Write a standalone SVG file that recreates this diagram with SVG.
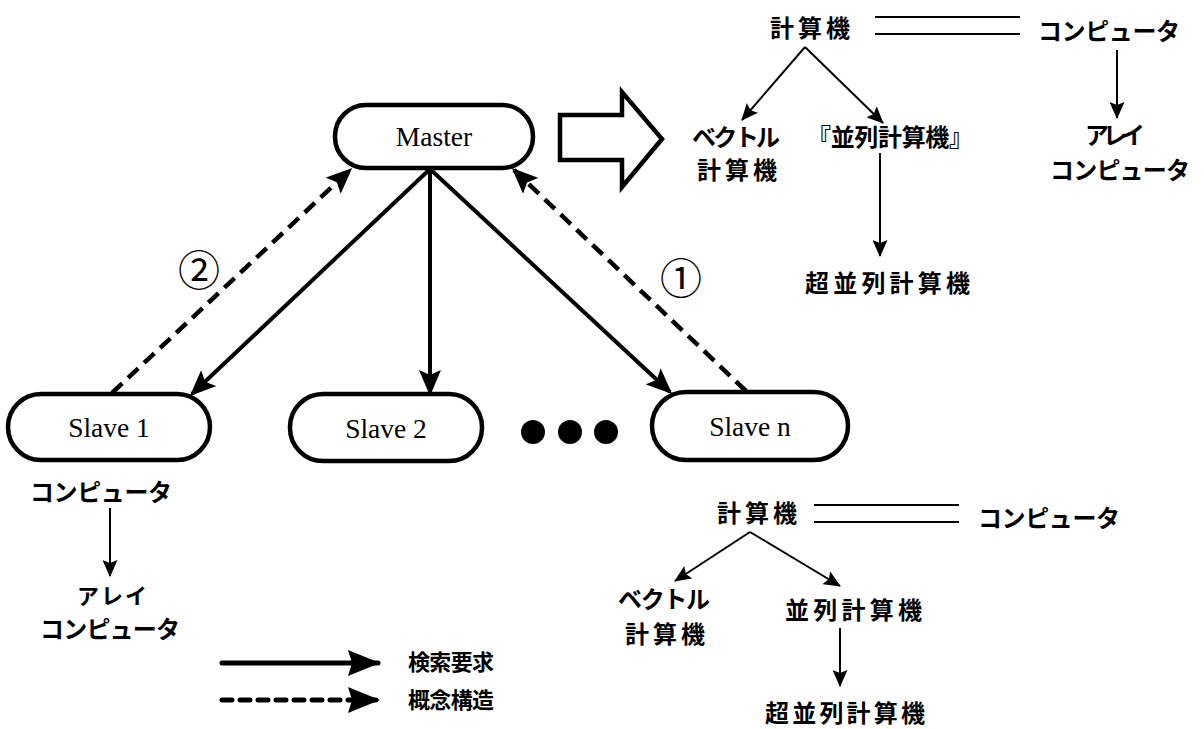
<svg xmlns="http://www.w3.org/2000/svg" width="1204" height="729" viewBox="0 0 1204 729">
<style>
.node rect{fill:#fff;stroke:#000;stroke-width:4.5}
.lbl{font-family:"Liberation Serif",serif;font-size:27.5px;fill:#000;text-anchor:middle}
.jp{font-family:"Noto Sans CJK JP",sans-serif;font-size:24px;font-weight:bold;fill:#000}
.jps{font-family:"Noto Sans CJK JP",sans-serif;font-size:22px;font-weight:bold;fill:#000}
.num{font-family:"Noto Sans CJK JP",sans-serif;font-size:42px;fill:#000;text-anchor:middle}
.main{fill:none;stroke:#000;stroke-width:4}
.dash{fill:none;stroke:#000;stroke-width:4.5;stroke-dasharray:14 8}
.thin{fill:none;stroke:#000;stroke-width:2}
</style>
<defs>
<marker id="ah" viewBox="0 0 26 22" refX="23" refY="11" markerWidth="26" markerHeight="22" markerUnits="userSpaceOnUse" orient="auto"><path d="M0,0 L26,11 L0,22 L5,11 z" fill="#000"/></marker>
<marker id="as" viewBox="0 0 17 15" refX="16" refY="7.5" markerWidth="17" markerHeight="15" markerUnits="userSpaceOnUse" orient="auto"><path d="M0,0 L17,7.5 L0,15 L3,7.5 z" fill="#000"/></marker>
<marker id="al" viewBox="0 0 32 26" refX="30" refY="13" markerWidth="32" markerHeight="26" markerUnits="userSpaceOnUse" orient="auto"><path d="M0,0 L32,13 L0,26 L4,13 z" fill="#000"/></marker>
</defs>

<g id="connectors">
<line class="main" x1="430" y1="169" x2="192" y2="394" marker-end="url(#ah)"/>
<line class="main" x1="430" y1="169" x2="430" y2="393" marker-end="url(#ah)"/>
<line class="main" x1="430" y1="169" x2="670" y2="392" marker-end="url(#ah)"/>
<line class="dash" x1="112" y1="393" x2="350" y2="170" marker-end="url(#ah)"/>
<line class="dash" x1="746" y1="391" x2="514" y2="170" marker-end="url(#ah)"/>
</g>

<g id="master" class="node"><rect x="335" y="105" width="198" height="63" rx="31"/><text class="lbl" x="434" y="146">Master</text></g>
<g id="slave1" class="node"><rect x="8" y="394" width="202" height="66" rx="33"/><text class="lbl" x="109" y="437">Slave 1</text></g>
<g id="slave2" class="node"><rect x="290" y="394" width="192" height="67" rx="33"/><text class="lbl" x="386" y="438">Slave 2</text></g>
<g id="slaven" class="node"><rect x="652" y="392" width="196" height="68" rx="34"/><text class="lbl" x="750" y="436">Slave n</text></g>

<g id="dots"><circle cx="533" cy="432" r="12"/><circle cx="570" cy="432" r="12"/><circle cx="606" cy="432" r="12"/></g>

<g id="bigarrow"><polygon points="560,115 622,115 622,92 662,139 622,187 622,160 560,160" fill="#fff" stroke="#000" stroke-width="4.5" stroke-linejoin="miter"/></g>

<g id="labels">
<text class="num" x="199" y="286">②</text>
<text class="num" x="681" y="294">①</text>
</g>

<g id="tree-top">
<text class="jp" x="770" y="37" textLength="80">計算機</text>
<line class="thin" x1="875" y1="17" x2="1020" y2="17"/>
<line class="thin" x1="875" y1="34" x2="1020" y2="34"/>
<text class="jp" x="1038" y="40" textLength="142">コンピュータ</text>
<line class="thin" x1="805" y1="47" x2="742" y2="120" marker-end="url(#as)"/>
<line class="thin" x1="805" y1="47" x2="883" y2="123" marker-end="url(#as)"/>
<text class="jp" x="692" y="146" textLength="88">ベクトル</text>
<text class="jp" x="697" y="179" textLength="80">計算機</text>
<text class="jp" x="807" y="146" textLength="166">『並列計算機』</text>
<line class="thin" x1="880" y1="153" x2="880" y2="256" marker-end="url(#as)"/>
<text class="jp" x="805" y="292" textLength="165">超並列計算機</text>
<line class="thin" x1="1117" y1="50" x2="1117" y2="118" marker-end="url(#as)"/>
<text class="jp" x="1085" y="144" textLength="60">アレイ</text>
<text class="jp" x="1050" y="179" textLength="140">コンピュータ</text>
</g>

<g id="tree-left">
<text class="jp" x="30" y="501" textLength="142">コンピュータ</text>
<line class="thin" x1="110" y1="508" x2="110" y2="576" marker-end="url(#as)"/>
<text class="jps" x="77" y="604" textLength="70">アレイ</text>
<text class="jp" x="40" y="638" textLength="140">コンピュータ</text>
</g>

<g id="tree-bottom">
<text class="jp" x="717" y="522" textLength="80">計算機</text>
<line class="thin" x1="814" y1="505" x2="959" y2="505"/>
<line class="thin" x1="814" y1="522" x2="959" y2="522"/>
<text class="jp" x="978" y="527" textLength="142">コンピュータ</text>
<line class="thin" x1="750" y1="532" x2="675" y2="581" marker-end="url(#as)"/>
<line class="thin" x1="750" y1="532" x2="840" y2="586" marker-end="url(#as)"/>
<text class="jp" x="618" y="608" textLength="92">ベクトル</text>
<text class="jp" x="625" y="643" textLength="80">計算機</text>
<text class="jp" x="785" y="619" textLength="137">並列計算機</text>
<line class="thin" x1="840" y1="628" x2="840" y2="686" marker-end="url(#as)"/>
<text class="jp" x="765" y="722" textLength="160">超並列計算機</text>
</g>

<g id="legend">
<line x1="222" y1="663" x2="378" y2="663" stroke="#000" stroke-width="5" stroke-linecap="round" marker-end="url(#al)"/>
<line x1="222" y1="700" x2="378" y2="700" stroke="#000" stroke-width="5" stroke-linecap="round" stroke-dasharray="10 8" marker-end="url(#al)"/>
<text class="jps" x="408" y="670" textLength="86">検索要求</text>
<text class="jps" x="408" y="708" textLength="86">概念構造</text>
</g>
</svg>
